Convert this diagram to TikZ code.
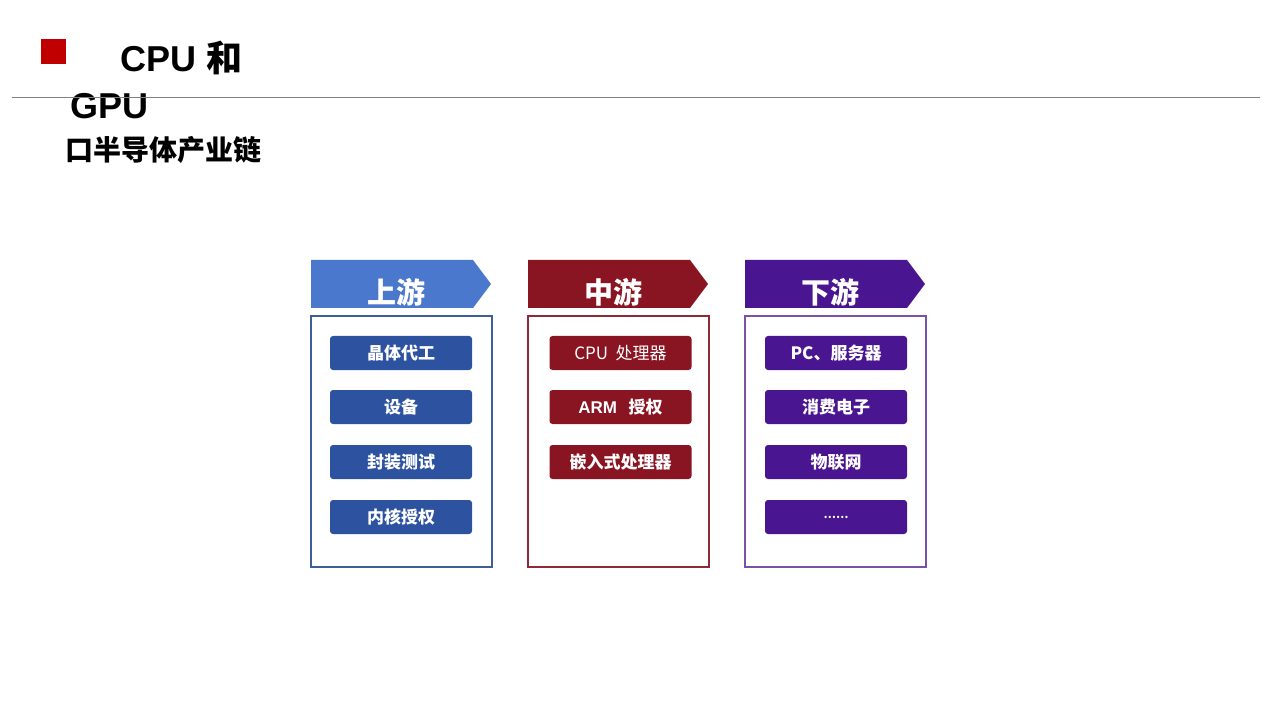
\documentclass[tikz,border=0pt]{standalone}
\usepackage{fontspec}
\setmainfont{Noto Sans CJK SC}
\newfontfamily\latinf{Liberation Sans}
\usetikzlibrary{shapes.symbols}
\definecolor{bhead}{HTML}{4A78CC}
\definecolor{bbord}{HTML}{3E5E9A}
\definecolor{bbtn}{HTML}{2D52A0}
\definecolor{rhead}{HTML}{8A1522}
\definecolor{rbord}{HTML}{8E2A35}
\definecolor{rbtn}{HTML}{8A1522}
\definecolor{phead}{HTML}{4A1590}
\definecolor{pbord}{HTML}{7A50A8}
\definecolor{pbtn}{HTML}{4A1590}
\tikzset{
 btn/.style={rounded corners=3pt,minimum width=142pt,minimum height=34pt,text=white,font=\fontsize{17}{17}\selectfont\bfseries,inner sep=0pt},
 frame/.style={line width=1.8pt},
}
\begin{document}
\begin{tikzpicture}[x=1pt,y=-1pt]
\useasboundingbox (0,0) rectangle (1280,719);
\fill[white] (0,0) rectangle (1280,719);
\node[fill={rgb,255:red,192;green,0;blue,0},minimum size=25pt,inner sep=0pt] (sq) at (53.5,52) {};
\node[anchor=west,font=\latinf\fontsize{36}{36}\selectfont\bfseries] (t1) at (117,58) {CPU \fontspec{Noto Sans CJK SC}和};
\node[anchor=west,font=\latinf\fontsize{36}{36}\selectfont\bfseries] (t2) at (67,106) {GPU};
\node[anchor=west,font=\fontsize{28}{28}\selectfont\bfseries] (t3) at (62,150) {口半导体产业链};
\draw[gray,line width=0.8pt] (12,97) coordinate (la) -- (1260,97) coordinate (lb);
% columns
\foreach \x/\hc/\bc/\nc/\lab/\n in {311/bhead/bbord/bbtn/上游/a,528/rhead/rbord/rbtn/中游/b,745/phead/pbord/pbtn/下游/c}{
 \fill[\hc] (\x,260) -- (\x+162,260) -- (\x+180,284) -- (\x+162,308) -- (\x,308) -- cycle;
 \node[text=white,font=\fontsize{29}{29}\selectfont\bfseries] (h\n) at (\x+85,292) {\lab};
 \draw[\bc,frame] (\x,316) rectangle (\x+181,567);
}
\foreach \y/\t [count=\i] in {353/晶体代工,407/设备,462/封装测试,517/内核授权}
 \node[btn,fill=bbtn] (ba\i) at (401,\y) {\t};
\node[btn,fill=rbtn,font=\fontsize{17}{17}\selectfont] (bb1) at (620.5,353) {CPU\ \ 处理器};
\node[btn,fill=rbtn] (bb2) at (620.5,407) {{\latinf ARM}\ \ \ 授权};
\node[btn,fill=rbtn] (bb3) at (620.5,462) {嵌入式处理器};
\foreach \y/\t [count=\i] in {353/PC、服务器,407/消费电子,462/物联网,517/{\fontsize{11}{11}\selectfont ……}}
 \node[btn,fill=pbtn] (bc\i) at (836,\y) {\t};
\end{tikzpicture}
\end{document}
